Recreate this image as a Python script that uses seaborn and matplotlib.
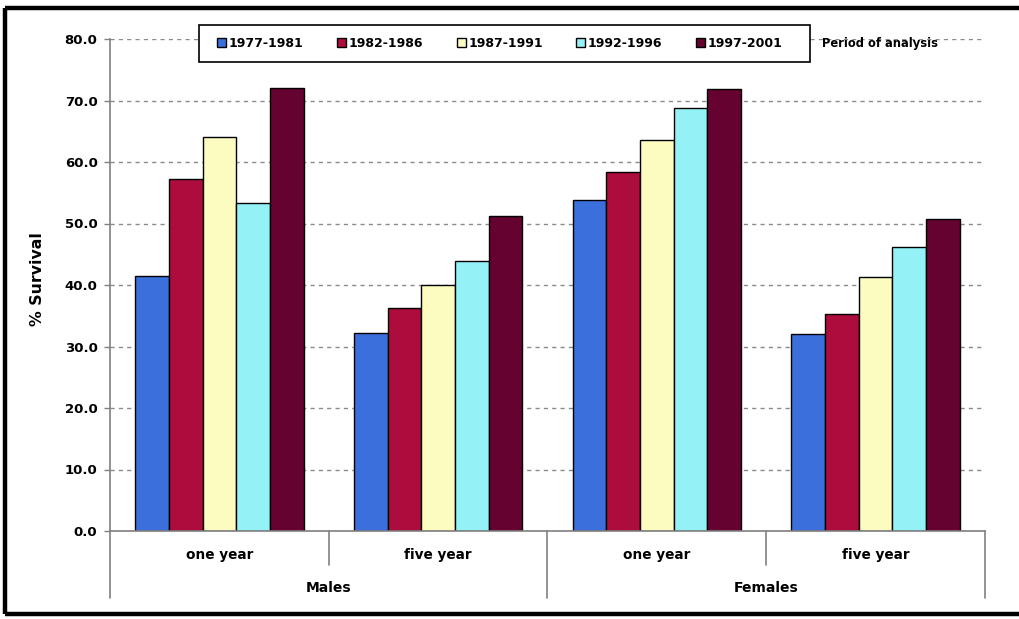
import matplotlib
matplotlib.use("Agg")
import matplotlib.pyplot as plt
from matplotlib.lines import Line2D
from matplotlib.patches import Rectangle
import seaborn as sns
import pandas as pd

# Survival data by sex, interval and period of diagnosis
groups = ["Males", "Males", "Females", "Females"]
intervals = ["one year", "five year", "one year", "five year"]
periods = ["1977-1981", "1982-1986", "1987-1991", "1992-1996", "1997-2001"]
survival = {
    "1977-1981": [41.5, 32.2, 53.9, 32.0],
    "1982-1986": [57.2, 36.2, 58.4, 35.3],
    "1987-1991": [64.0, 40.0, 63.5, 41.3],
    "1992-1996": [53.3, 43.9, 68.8, 46.1],
    "1997-2001": [72.0, 51.2, 71.9, 50.7],
}
colors = ["#3a6fdc", "#ad0d3c", "#fdfcc0", "#94f2f6", "#650230"]
yticks = [0, 10, 20, 30, 40, 50, 60, 70, 80]

cats = [f"{g}|{i}" for g, i in zip(groups, intervals)]
rows = []
for p in periods:
    for c, v in zip(cats, survival[p]):
        rows.append({"cat": c, "period": p, "value": v})
df = pd.DataFrame(rows)

sns.set_theme(style="white")
plt.rcParams["font.family"] = ["DejaVu Sans"]
plt.rcParams["font.weight"] = "bold"
plt.rcParams["text.color"] = "black"
plt.rcParams["ytick.labelcolor"] = "black"

W, H = 1020, 619
fig = plt.figure(figsize=(W / 100, H / 100), dpi=100)
fig.patch.set_facecolor("white")
fig.patch.set_linewidth(0)
ax = fig.add_axes([110 / W, 1 - 531 / H, 875 / W, 492 / H])

sns.barplot(data=df, x="cat", y="value", hue="period", order=cats,
            hue_order=periods, palette=colors, width=0.77, gap=0,
            edgecolor="black", linewidth=1.0, saturation=1, ax=ax)

ax.set_xlim(-0.5, len(cats) - 0.5)
ax.set_ylim(0, 80)
ax.set_yticks(yticks)
ax.set_yticklabels([f"{t:.1f}" for t in yticks], fontsize=9.5,
                   fontweight="bold", color="black")
ax.set_xticks([])
ax.set_xlabel("")
ax.set_ylabel("")
ax.yaxis.grid(True, color="#8a8a8a", linestyle=(0, (3, 3)), linewidth=1)
ax.set_axisbelow(True)
ax.tick_params(axis="y", direction="out", length=4, width=1, color="#808080",
               pad=5, left=True)
for s in ["top", "right"]:
    ax.spines[s].set_visible(False)
for s in ["left", "bottom"]:
    ax.spines[s].set_color("#808080")
    ax.spines[s].set_linewidth(1.2)

fig.text(38 / W, 1 - 279 / H, "% Survival", rotation=90, ha="center",
         va="center", fontsize=11.3, fontweight="bold", color="black")

# Two-level category axis
px = 1 / 492
trans = ax.get_xaxis_transform()
bounds = [-0.5, 0.5, 1.5, 2.5, 3.5]
for k, b in enumerate(bounds):
    y_end = -67 * px if k % 2 == 0 else -34 * px
    ax.plot([b, b], [0, y_end], color="#808080", lw=1.2, transform=trans,
            clip_on=False)
for k, lab in enumerate(intervals):
    ax.text(k, -24 * px, lab, transform=trans, ha="center", va="center",
            fontsize=9.8, fontweight="bold", color="black")
for k, g in enumerate(["Males", "Females"]):
    ax.text(2 * k + 0.5, -57 * px, g, transform=trans, ha="center",
            va="center", fontsize=10, fontweight="bold", color="black")

# Legend box with its entries
handles, labels = ax.get_legend_handles_labels()
if ax.get_legend() is not None:
    ax.get_legend().remove()
fig.add_artist(Rectangle((199 / W, 1 - 62 / H), 611 / W, 37 / H,
                         transform=fig.transFigure, facecolor="white",
                         edgecolor="black", linewidth=1.2, zorder=2))
leg = fig.legend(handles, labels, ncol=5, loc="center left",
                 bbox_to_anchor=(217.5 / W, 1 - 43.5 / H),
                 bbox_transform=fig.transFigure, frameon=False,
                 handlelength=0.72, handleheight=0.72, handletextpad=0.2,
                 columnspacing=2.68, borderpad=0, borderaxespad=0,
                 prop={"size": 9, "weight": "bold"})
leg.set_zorder(5)
for t in leg.get_texts():
    t.set_color("black")
fig.text(822 / W, 1 - 44 / H, "Period of analysis", ha="left", va="center",
         fontsize=8.3, fontweight="bold", color="black")

# Outer frame: left, top and bottom edges
for xs, ys in [([5 / W, 5 / W], [1 - 8 / H, 1 - 614 / H]),
               ([5 / W, 1.0], [1 - 8 / H, 1 - 8 / H]),
               ([5 / W, 1.0], [1 - 614 / H, 1 - 614 / H])]:
    fig.add_artist(Line2D(xs, ys, color="black", lw=3.2,
                          transform=fig.transFigure, solid_capstyle="butt"))

fig.savefig("out.png", dpi=100, facecolor="white", edgecolor="none")
